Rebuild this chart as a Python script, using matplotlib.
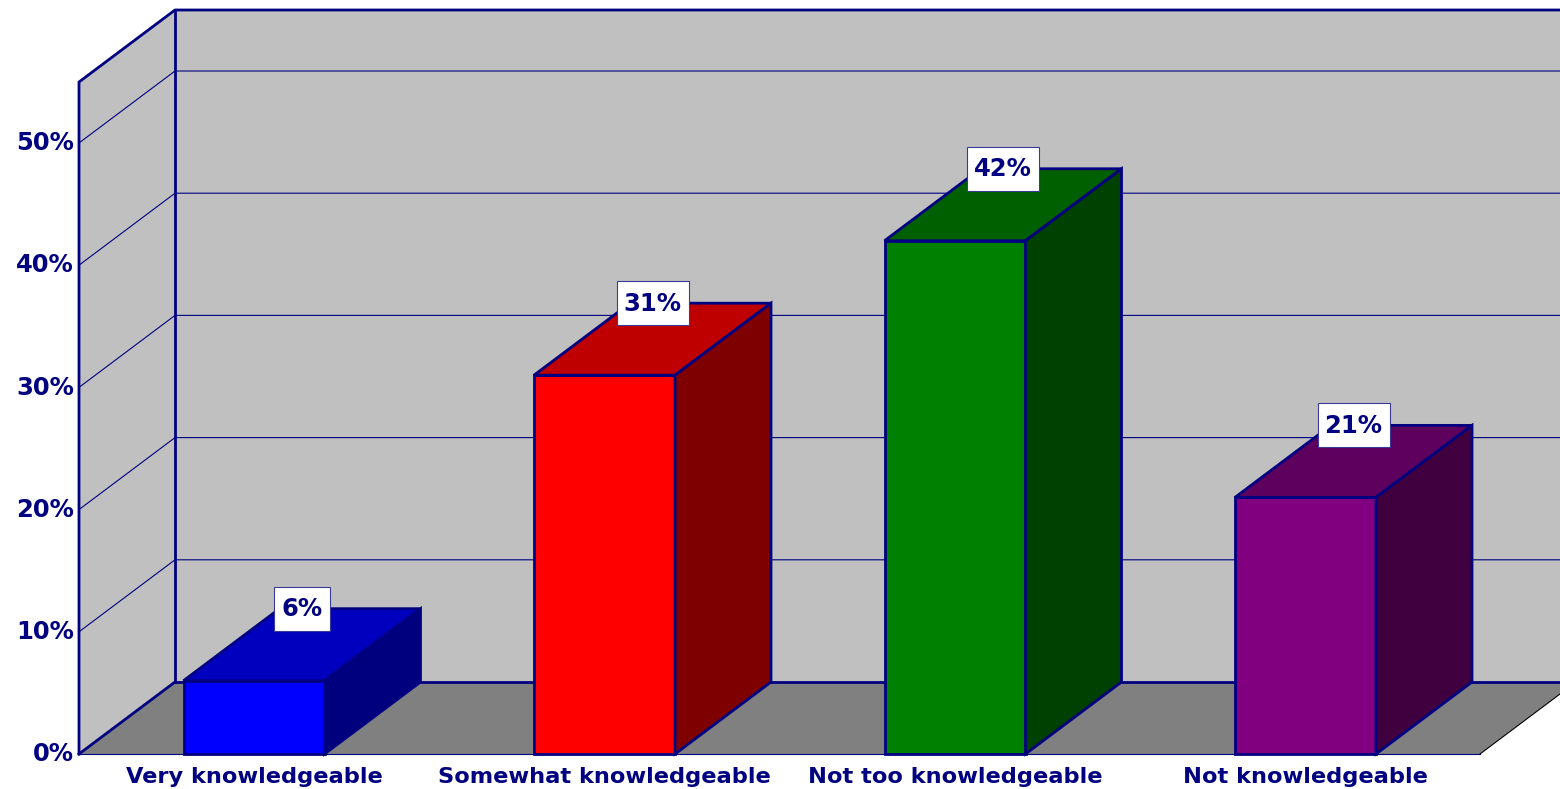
import matplotlib
matplotlib.use("Agg")
import matplotlib.pyplot as plt
from matplotlib.patches import Polygon, Rectangle

categories = ["Very knowledgeable", "Somewhat knowledgeable", "Not too knowledgeable", "Not knowledgeable"]
values = [6, 31, 42, 21]
value_labels = ["6%", "31%", "42%", "21%"]
y_ticks = [0, 10, 20, 30, 40, 50]
y_tick_labels = ["0%", "10%", "20%", "30%", "40%", "50%"]
wall_grid = [10, 20, 30, 40, 50]
front_colors = ["#0000FF", "#FF0000", "#008000", "#800080"]
top_colors = ["#0000BE", "#BE0000", "#006000", "#5E005E"]
side_colors = ["#00007F", "#7F0000", "#004000", "#400040"]

NAVY = "#000080"
W, H = 1560, 789
PX_PER_PCT = 12.22
PX_PER_CAT = 350.5
X0_PX, Y0_PX = 254, 754
DX = 96 / PX_PER_CAT
DY = 72 / PX_PER_PCT
BW = 141 / PX_PER_CAT

fig = plt.figure(figsize=(W / 100, H / 100), dpi=100, facecolor="white")
ax = fig.add_axes([0, 0, 1, 1])
ax.set_xlim(-X0_PX / PX_PER_CAT, (W - X0_PX) / PX_PER_CAT)
ax.set_ylim(-(H - Y0_PX) / PX_PER_PCT, Y0_PX / PX_PER_PCT)
ax.axis("off")

left = (79 - X0_PX) / PX_PER_CAT
right_front = (1480 - X0_PX) / PX_PER_CAT
wall_left = left + DX
x_end = (W + 5 - X0_PX) / PX_PER_CAT
top = (Y0_PX - 82) / PX_PER_PCT

lw_thick = 2.0
lw_thin = 0.8
FONT = "DejaVu Sans"

# back wall
ax.add_patch(Polygon([(wall_left, DY), (x_end, DY), (x_end, top + DY), (wall_left, top + DY)],
                     closed=True, fc="#C0C0C0", ec="none", zorder=1))
# side wall
ax.add_patch(Polygon([(left, 0), (wall_left, DY), (wall_left, top + DY), (left, top)],
                     closed=True, fc="#C0C0C0", ec="none", zorder=1))
# floor
ax.add_patch(Polygon([(left, 0), (right_front, 0), (right_front + DX, DY), (wall_left, DY)],
                     closed=True, fc="#808080", ec="none", zorder=1))
ax.plot([left, right_front], [0, 0], color=NAVY, lw=lw_thin, zorder=2)
ax.plot([right_front, right_front + DX], [0, DY], color="black", lw=lw_thin, zorder=2)

# grid lines
for g in wall_grid:
    ax.plot([left, wall_left, x_end], [g, g + DY, g + DY], color=NAVY, lw=lw_thin, zorder=2)
ax.plot([wall_left, x_end], [DY, DY], color=NAVY, lw=lw_thick, zorder=2)
ax.plot([left, wall_left], [0, DY], color=NAVY, lw=lw_thick, zorder=2)

# wall frame
ax.plot([left, left, wall_left, x_end], [0, top, top + DY, top + DY], color=NAVY, lw=lw_thick, zorder=3)
ax.plot([wall_left, wall_left], [DY, top + DY], color=NAVY, lw=lw_thick, zorder=3)

# bars
for i, v in enumerate(values):
    x1, x2 = i - BW / 2, i + BW / 2
    ax.add_patch(Rectangle((x1, 0), BW, v, fc=front_colors[i], ec=NAVY, lw=lw_thick, zorder=4, joinstyle="miter"))
    ax.add_patch(Polygon([(x1, v), (x2, v), (x2 + DX, v + DY), (x1 + DX, v + DY)], closed=True,
                         fc=top_colors[i], ec=NAVY, lw=lw_thick, zorder=4))
    ax.add_patch(Polygon([(x2, 0), (x2 + DX, DY), (x2 + DX, v + DY), (x2, v)], closed=True,
                         fc=side_colors[i], ec=NAVY, lw=lw_thick, zorder=4))
    # value label box
    cx = i + 48 / PX_PER_CAT
    box_w = (16 * len(value_labels[i]) + 24) / PX_PER_CAT
    box_h = 44 / PX_PER_PCT
    ax.add_patch(Rectangle((cx - box_w / 2, v + DY - box_h / 2), box_w, box_h, fc="white",
                           ec="#3A3A98", lw=0.8, zorder=5))
    ax.text(cx, v + DY - 0.05, value_labels[i], ha="center", va="center", color=NAVY,
            fontsize=17.5, fontweight="bold", family=FONT, zorder=6)
    ax.text(i, -1.85, categories[i], ha="center", va="center", color=NAVY,
            fontsize=16.2, fontweight="bold", family=FONT, zorder=6)

# y tick labels
for t, lab in zip(y_ticks, y_tick_labels):
    ax.text(left - 5 / PX_PER_CAT, t - 0.02, lab, ha="right", va="center", color=NAVY,
            fontsize=17.5, fontweight="bold", family=FONT, zorder=6)

fig.savefig("out.png", dpi=100, facecolor="white")
